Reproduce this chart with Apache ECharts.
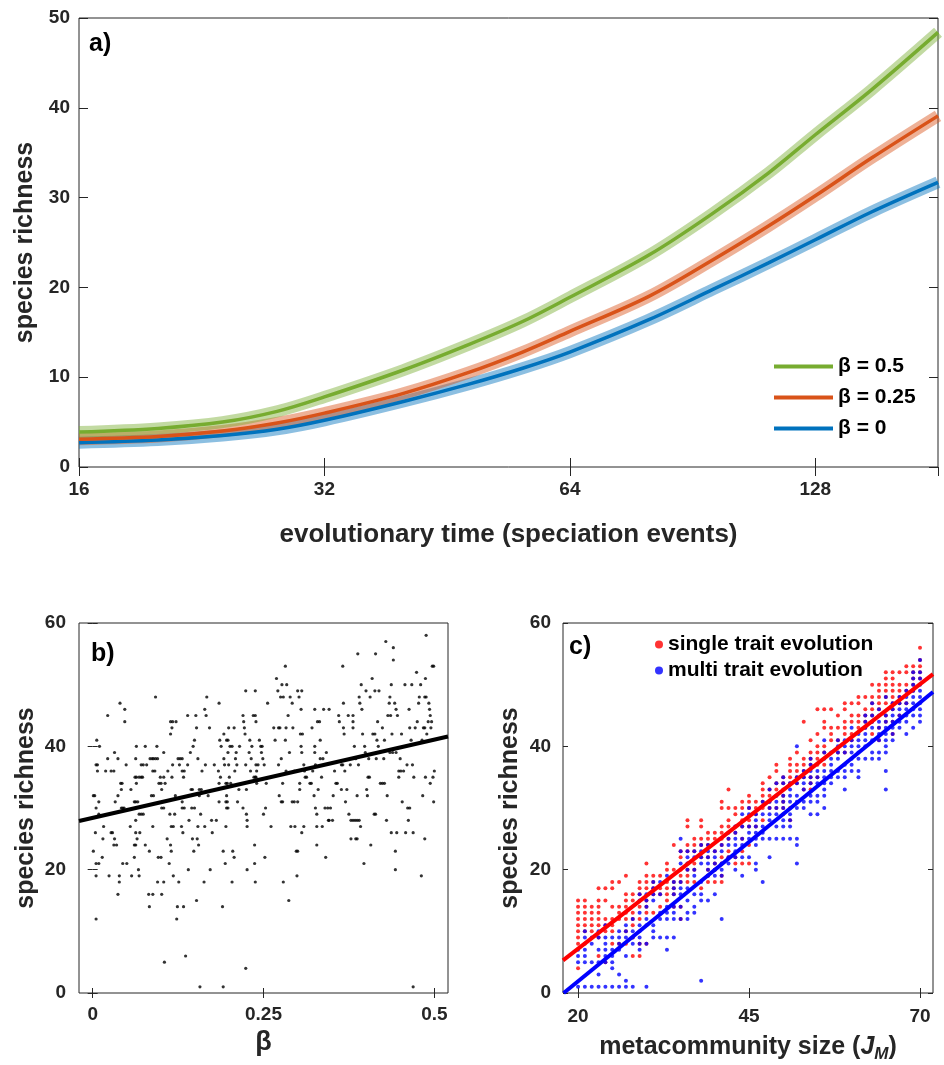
<!DOCTYPE html>
<html>
<head>
<meta charset="utf-8">
<script src="https://cdn.jsdelivr.net/npm/echarts@6/dist/echarts.min.js"></script>
<style>
  html, body { margin: 0; padding: 0; background: #fff; }
  #root { width: 944px; height: 1065px; }
</style>
</head>
<body>
<div id="root"></div>
<script>
// panel a: richness over evolutionary time
const timeSteps = [16, 20, 24, 28, 32, 40, 48, 56, 64, 80, 96, 112, 128, 150, 181];
const richBeta05 = [3.9, 4.3, 5.0, 6.2, 7.8, 10.8, 13.6, 16.2, 18.9, 23.6, 28.3, 32.7, 37.0, 42.0, 48.4];
const richBeta025 = [3.1, 3.4, 4.0, 4.9, 6.0, 8.2, 10.5, 12.8, 15.1, 19.0, 23.1, 26.8, 30.2, 34.4, 39.1];
const richBeta0 = [2.7, 3.0, 3.5, 4.2, 5.2, 7.3, 9.2, 11.0, 12.8, 16.4, 19.8, 22.7, 25.3, 28.4, 31.7];
const legendA = ['β = 0.5', 'β = 0.25', 'β = 0'];

// panel b: richness vs beta
const betaPoints = [
  [0.001,32],[0.003,32],[0.001,23],[0.005,12],[0.006,41],[0.010,40],[0.005,37],[0.007,37],[0.007,36],[0.004,26],
  [0.005,30],[0.005,19],[0.005,21],[0.009,21],[0.009,31],[0.009,29],[0.015,25],[0.016,27],[0.014,22],[0.019,36],
  [0.022,45],[0.022,38],[0.024,19],[0.027,36],[0.031,36],[0.027,26],[0.029,26],[0.032,39],[0.032,25],[0.031,24],
  [0.033,31],[0.037,38],[0.037,32],[0.035,24],[0.037,16],[0.039,19],[0.039,18],[0.040,47],[0.041,34],[0.043,34],
  [0.042,33],[0.042,30],[0.044,30],[0.046,30],[0.044,21],[0.047,46],[0.047,44],[0.049,37],[0.050,21],[0.055,27],
  [0.056,33],[0.057,19],[0.061,31],[0.063,31],[0.061,22],[0.061,24],[0.063,24],[0.062,35],[0.064,35],[0.063,38],
  [0.063,28],[0.064,40],[0.064,34],[0.063,26],[0.065,25],[0.066,31],[0.067,20],[0.068,19],[0.068,35],[0.071,35],
  [0.073,35],[0.068,29],[0.071,29],[0.074,29],[0.069,26],[0.071,37],[0.074,37],[0.077,40],[0.077,24],[0.079,37],
  [0.082,16],[0.088,16],[0.083,14],[0.083,23],[0.084,38],[0.087,38],[0.089,38],[0.092,38],[0.095,38],[0.086,32],
  [0.089,32],[0.088,27],[0.092,48],[0.088,36],[0.091,36],[0.094,40],[0.095,18],[0.104,18],[0.096,22],[0.100,22],
  [0.097,34],[0.100,34],[0.099,35],[0.104,35],[0.101,16],[0.101,30],[0.104,30],[0.101,33],[0.104,39],[0.106,34],
  [0.109,25],[0.110,36],[0.112,21],[0.113,29],[0.114,44],[0.117,44],[0.122,44],[0.114,42],[0.116,43],[0.114,24],
  [0.115,23],[0.115,27],[0.118,27],[0.116,35],[0.117,37],[0.118,19],[0.120,29],[0.121,32],[0.123,12],[0.124,14],
  [0.125,38],[0.128,38],[0.131,38],[0.126,18],[0.127,37],[0.130,27],[0.131,36],[0.134,36],[0.131,31],[0.131,30],
  [0.134,30],[0.132,26],[0.133,35],[0.133,14],[0.136,6],[0.105,5],[0.139,45],[0.139,37],[0.140,20],[0.141,28],
  [0.143,39],[0.147,40],[0.144,33],[0.146,33],[0.145,30],[0.149,30],[0.146,25],[0.148,23],[0.149,41],[0.151,45],
  [0.152,43],[0.152,15],[0.153,25],[0.154,38],[0.154,27],[0.155,24],[0.156,33],[0.159,33],[0.156,32],[0.157,1],
  [0.158,29],[0.160,36],[0.163,18],[0.164,46],[0.164,27],[0.165,37],[0.166,45],[0.167,48],[0.169,32],[0.171,43],
  [0.172,20],[0.174,28],[0.175,26],[0.178,37],[0.181,28],[0.184,36],[0.187,35],[0.185,47],[0.185,34],[0.185,31],
  [0.186,41],[0.188,40],[0.190,14],[0.191,23],[0.191,1],[0.192,42],[0.192,38],[0.193,37],[0.194,21],[0.195,34],
  [0.197,34],[0.195,31],[0.197,31],[0.195,27],[0.196,41],[0.198,41],[0.196,32],[0.196,30],[0.198,30],[0.198,39],
  [0.199,43],[0.199,37],[0.200,35],[0.201,40],[0.202,34],[0.204,40],[0.204,18],[0.205,23],[0.207,22],[0.207,43],
  [0.208,36],[0.209,38],[0.210,39],[0.211,37],[0.212,31],[0.214,33],[0.215,40],[0.220,30],[0.220,45],[0.221,44],
  [0.222,43],[0.223,42],[0.224,37],[0.224,49],[0.224,4],[0.225,33],[0.225,29],[0.226,28],[0.226,27],[0.226,20],
  [0.229,39],[0.230,41],[0.231,36],[0.232,38],[0.233,40],[0.235,45],[0.238,45],[0.236,35],[0.238,35],[0.239,35],
  [0.237,24],[0.237,21],[0.238,18],[0.238,49],[0.239,44],[0.239,37],[0.242,37],[0.240,36],[0.240,34],[0.244,41],
  [0.246,40],[0.248,40],[0.247,39],[0.249,38],[0.250,29],[0.251,37],[0.252,22],[0.253,30],[0.254,34],[0.256,47],
  [0.261,27],[0.265,43],[0.267,41],[0.269,51],[0.271,49],[0.272,43],[0.274,43],[0.272,37],[0.273,32],[0.276,31],
  [0.278,31],[0.275,48],[0.276,38],[0.277,50],[0.278,34],[0.279,18],[0.279,48],[0.282,53],[0.282,41],[0.283,36],
  [0.283,43],[0.284,50],[0.286,45],[0.287,15],[0.288,39],[0.289,48],[0.290,27],[0.292,47],[0.292,31],[0.295,31],
  [0.300,31],[0.293,43],[0.295,36],[0.298,36],[0.296,27],[0.298,23],[0.300,23],[0.299,19],[0.300,49],[0.302,48],
  [0.303,34],[0.303,33],[0.304,42],[0.305,46],[0.305,40],[0.306,39],[0.306,26],[0.306,49],[0.307,42],[0.309,27],
  [0.309,37],[0.310,36],[0.311,35],[0.313,35],[0.318,34],[0.320,34],[0.321,43],[0.322,36],[0.324,32],[0.325,46],
  [0.325,40],[0.325,39],[0.326,37],[0.326,30],[0.328,29],[0.328,24],[0.328,27],[0.329,44],[0.330,33],[0.332,44],
  [0.333,41],[0.333,38],[0.335,35],[0.336,27],[0.337,38],[0.338,46],[0.340,30],[0.341,22],[0.342,39],[0.344,30],
  [0.345,28],[0.346,28],[0.346,46],[0.348,30],[0.351,28],[0.352,32],[0.354,36],[0.356,34],[0.358,34],[0.360,45],
  [0.361,44],[0.364,37],[0.366,37],[0.364,33],[0.366,53],[0.367,47],[0.367,43],[0.368,42],[0.369,36],[0.370,31],
  [0.372,33],[0.374,45],[0.375,29],[0.378,28],[0.381,28],[0.384,28],[0.387,28],[0.390,28],[0.377,37],[0.378,25],
  [0.385,25],[0.387,25],[0.381,45],[0.381,44],[0.381,43],[0.383,40],[0.385,38],[0.387,32],[0.388,55],[0.389,37],
  [0.390,48],[0.391,47],[0.393,50],[0.392,27],[0.394,46],[0.395,42],[0.397,21],[0.398,40],[0.399,39],[0.400,49],
  [0.401,33],[0.402,32],[0.403,35],[0.404,38],[0.405,35],[0.406,48],[0.407,24],[0.409,51],[0.410,42],[0.413,42],
  [0.412,29],[0.414,29],[0.413,49],[0.414,55],[0.415,38],[0.416,41],[0.417,44],[0.418,40],[0.419,49],[0.421,34],
  [0.424,34],[0.427,34],[0.424,43],[0.426,38],[0.427,41],[0.429,57],[0.430,28],[0.431,32],[0.432,45],[0.434,47],
  [0.435,48],[0.435,39],[0.436,45],[0.437,50],[0.437,26],[0.438,42],[0.439,39],[0.440,56],[0.440,54],[0.442,47],
  [0.443,23],[0.443,20],[0.444,39],[0.444,46],[0.445,26],[0.446,45],[0.448,36],[0.451,36],[0.448,35],[0.450,38],
  [0.452,42],[0.453,31],[0.455,36],[0.457,50],[0.458,26],[0.460,37],[0.461,30],[0.462,28],[0.463,46],[0.464,43],
  [0.464,30],[0.466,41],[0.467,50],[0.468,37],[0.469,1],[0.469,26],[0.470,35],[0.472,43],[0.474,52],[0.475,44],
  [0.477,47],[0.478,48],[0.480,50],[0.481,19],[0.482,41],[0.483,32],[0.484,43],[0.486,43],[0.486,48],[0.488,48],
  [0.486,25],[0.487,51],[0.487,35],[0.488,58],[0.489,42],[0.491,44],[0.492,47],[0.493,46],[0.494,45],[0.494,34],
  [0.495,43],[0.496,44],[0.497,53],[0.499,53],[0.498,35],[0.499,31],[0.500,36]
];
const betaFit = [[-0.02, 27.9], [0.52, 41.6]];

// panel c: richness vs metacommunity size, one list of richness values per J_M column
const jmSizes = [20,21,22,23,24,25,26,27,28,29,30,31,32,33,34,35,36,37,38,39,40,41,42,43,44,45,
  46,47,48,49,50,51,52,53,54,55,56,57,58,59,60,61,62,63,64,65,66,67,68,69,70];
const singleTrait = [
  [15,14,13,12,11,10,9,8,4],[15,14,13,12,11,10,8],[14,13,12,11,10],[17,15,14,13,12,11,9,6],[17,15,12,11,10,5],
  [18,17,14,12,11,10,8],[18,14,13,12,8],[19,16,15,14,13,12,10,8],[16,15,13,12,11,9,6],[18,17,16,14,12,8,6],
  [21,19,18,17,15,14,13,8],[19,18,17,16,13],[19,17,16,14],[21,20,18,17,16,15],[24,20,18,17,16,14],
  [23,22,20,19,18,14,12],[28,27,24,23,21,20,19,18],[25,24,23,21,20,18],[28,27,25,24,22,17],[26,25,24,22,20,19,18],
  [26,25,23,21,20,18],[31,30,27,26,25,24,22,21,19,18],[33,30,28,27,25,23,22],[30,29,27,26,22,21],[31,30,28,27,25,23,21],
  [32,31,30,28,27,24,21],[31,30,29,27],[34,33,32,31,30,28],[35,33,32,31,30],[37,36,34,33,32,30],
  [35,34,33,32,31,30,29],[38,37,36,35,34,30,28],[39,37,36,35,34],[44,38,37,36,35,33],[41,39,38,37,35,34,33],
  [46,42,40,39,38,37,35],[46,44,43,40,39,37],[46,43,42,41],[45,43,41,39],[47,46,44,43,42,39],
  [47,45,44,42,41],[48,47,45,44,43],[48,46,45,44,43],[50,48,47,46,45,44,42],[50,49,48,47,46,43,41],
  [52,51,50,49,48,47,45,44],[52,51,50,49,48,47,46,44,42],[52,50,49,48,47,45],[53,52,50,49,47],[53,52,51,50,49],
  [56,54,53,52,51]
];
const multiTrait = [
  [7,6,5,1],[10,9,7,6,5,1],[9,8,5,1],[10,9,7,5,3,1],[11,9,8,7,6,5,1],
  [9,7,6,5,4,1],[10,9,8,7,3,1],[11,10,9,6,2,1],[12,10,9,8,1],[16,15,13,11,10,9,8,7],
  [16,15,14,12,11,8,1],[18,17,16,15,11,10,9],[18,16,13,12,9],[19,14,13,12,9,7],[18,17,16,14,13,12,9],
  [25,23,21,18,17,16,14,12],[23,22,21,20,17,15,13,12],[23,22,20,19,16,14,13],[24,23,22,21,18,16,15,2],[24,23,22,21,20,19,15],
  [23,22,21,20,19,16],[24,23,21,20,19,12],[26,25,24,22,21],[27,26,25,24,23,22,20],[29,27,25,24,22,19],
  [30,29,27,26,25,22],[29,28,27,26,25,24,21,20],[31,29,27,26,25,18],[33,31,30,29,28,25,22],[34,32,31,30,29,27,25],
  [35,34,32,31,30,28,27,25],[34,33,32,31,29,28,27,25],[40,35,34,32,31,30,25,24,21],[36,35,34,33,31,30],[38,37,36,35,34,32,31,29],
  [36,35,34,32,31,29],[41,39,38,36,35,34,33,32,30],[39,38,37,36,35,34],[41,40,39,38,36,35],[41,40,39,37,36,35,33],
  [43,41,40,39,38,37,36],[42,41,40,39,38,36,35],[45,44,43,42,41,40,38],[47,45,44,43,41,39,38],[46,45,44,43,42,41,39,38],
  [48,45,44,43,42,41,40,39,36,33],[47,46,45,44,43,42,41],[48,47,46,45,44,43],[49,48,47,46,45,44,42],[52,51,50,49,48,47,46,45,43],
  [54,52,51,50,49,48,47,46,45,44]
];
const singleFit = [[17.8, 5.3], [71.9, 51.7]];
const multiFit = [[17.9, 0], [71.9, 48.8]];

const FONT = 'Liberation Sans';
const INK = '#262626';

function toPairs(xs, ys) {
  return xs.map((x, i) => [x, ys[i]]);
}
function columnsToPoints(cols, lists) {
  const pts = [];
  cols.forEach((x, i) => lists[i].forEach(y => pts.push([x, y])));
  return pts;
}

function tickLabel(margin) {
  return { fontFamily: FONT, fontWeight: 'bold', fontSize: 19, color: INK, margin: margin };
}
function nameStyle() {
  return { fontFamily: FONT, fontWeight: 'bold', fontSize: 25, color: INK };
}
function mirrorAxis(base, pos) {
  // same scale as base, just inside ticks on the opposite side
  const ax = Object.assign({}, base, { position: pos, name: '' });
  ax.axisLabel = Object.assign({}, base.axisLabel, { show: false });
  return ax;
}

const xA = {
  gridIndex: 0, type: 'log', logBase: 2, min: 16, max: 181,
  axisLine: { show: false }, splitLine: { show: false },
  axisTick: { inside: true, length: 9, lineStyle: { color: INK } },
  axisLabel: Object.assign(tickLabel(13), { showMaxLabel: false }),
  name: 'evolutionary time (speciation events)', nameLocation: 'middle', nameGap: 55,
  nameTextStyle: Object.assign(nameStyle(), { fontSize: 26 })
};
const yA = {
  gridIndex: 0, type: 'value', min: 0, max: 50, interval: 10,
  axisLine: { show: false }, splitLine: { show: false },
  axisTick: { inside: true, length: 9, lineStyle: { color: INK } },
  axisLabel: tickLabel(9),
  name: 'species richness', nameLocation: 'middle', nameGap: 41,
  nameTextStyle: nameStyle()
};
const xB = {
  gridIndex: 1, type: 'value', min: -0.02, max: 0.52,
  axisLine: { show: false }, splitLine: { show: false },
  axisTick: { inside: true, length: 5, customValues: [0, 0.25, 0.5], lineStyle: { color: INK } },
  axisLabel: Object.assign(tickLabel(12), { customValues: [0, 0.25, 0.5] }),
  name: 'β', nameLocation: 'middle', nameGap: 36,
  nameTextStyle: Object.assign(nameStyle(), { fontSize: 27 })
};
const yB = {
  gridIndex: 1, type: 'value', min: 0, max: 60, interval: 20,
  axisLine: { show: false }, splitLine: { show: false },
  axisTick: { inside: true, length: 5, lineStyle: { color: INK } },
  axisLabel: tickLabel(13),
  name: 'species richness', nameLocation: 'middle', nameGap: 40,
  nameTextStyle: nameStyle()
};
const xC = {
  gridIndex: 2, type: 'value', min: 17.8, max: 71.9,
  axisLine: { show: false }, splitLine: { show: false },
  axisTick: { inside: true, length: 5, customValues: [20, 45, 70], lineStyle: { color: INK } },
  axisLabel: Object.assign(tickLabel(14), { customValues: [20, 45, 70] }),
  name: 'metacommunity size ({i|J}{sub|M})', nameLocation: 'middle', nameGap: 38,
  nameTextStyle: Object.assign(nameStyle(), {
    rich: {
      i: { fontFamily: FONT, fontWeight: 'bold', fontStyle: 'italic', fontSize: 25, color: INK },
      sub: { fontFamily: FONT, fontWeight: 'bold', fontStyle: 'italic', fontSize: 17, color: INK, padding: [15, 0, 0, 0] }
    }
  })
};
const yC = {
  gridIndex: 2, type: 'value', min: 0, max: 60, interval: 20,
  axisLine: { show: false }, splitLine: { show: false },
  axisTick: { inside: true, length: 5, lineStyle: { color: INK } },
  axisLabel: tickLabel(12),
  name: 'species richness', nameLocation: 'middle', nameGap: 40,
  nameTextStyle: nameStyle()
};

const green = '#77AC30', orange = '#D95319', blue = '#0072BD';

function curve(name, ys, color, width, z) {
  return {
    type: 'line', name: name, xAxisIndex: 0, yAxisIndex: 0,
    data: toPairs(timeSteps, ys), smooth: 0.35, showSymbol: false, silent: true, z: z,
    itemStyle: { color: color }, lineStyle: { color: color, width: width, cap: 'butt' }
  };
}

const gridBox = { show: true, borderColor: INK, borderWidth: 1, backgroundColor: 'transparent' };

const option = {
  animation: false,
  textStyle: { fontFamily: FONT },
  grid: [
    Object.assign({ left: 79, top: 18, width: 859, height: 449 }, gridBox),
    Object.assign({ left: 79, top: 623, width: 369, height: 370 }, gridBox),
    Object.assign({ left: 563, top: 623, width: 370, height: 370 }, gridBox)
  ],
  xAxis: [xA, xB, xC, mirrorAxis(xA, 'top'), mirrorAxis(xB, 'top'), mirrorAxis(xC, 'top')],
  yAxis: [yA, yB, yC, mirrorAxis(yA, 'right'), mirrorAxis(yB, 'right'), mirrorAxis(yC, 'right')],
  legend: [
    {
      data: legendA, orient: 'vertical', left: 774, top: 356, padding: 0,
      icon: 'rect', itemWidth: 59, itemHeight: 4, itemGap: 10, selectedMode: false,
      textStyle: { fontFamily: FONT, fontWeight: 'bold', fontSize: 21, color: '#000' }
    },
    {
      data: ['single trait evolution', 'multi trait evolution'], orient: 'vertical', left: 655, top: 634, padding: 0,
      icon: 'circle', itemWidth: 8, itemHeight: 8, itemGap: 5, selectedMode: false,
      textStyle: { fontFamily: FONT, fontWeight: 'bold', fontSize: 21, color: '#000' }
    }
  ],
  graphic: [
    { type: 'text', left: 89, top: 32, style: { text: 'a)', font: 'bold 25px "Liberation Sans"', fill: '#000' } },
    { type: 'text', left: 91, top: 642, style: { text: 'b)', font: 'bold 25px "Liberation Sans"', fill: '#000' } },
    { type: 'text', left: 569, top: 635, style: { text: 'c)', font: 'bold 25px "Liberation Sans"', fill: '#000' } }
  ],
  series: [
    curve('band 0', richBeta0, 'rgba(0,114,189,0.45)', 12, 1),
    curve('band 0.25', richBeta025, 'rgba(217,83,25,0.45)', 12, 1),
    curve('band 0.5', richBeta05, 'rgba(119,172,48,0.45)', 12, 1),
    curve(legendA[2], richBeta0, blue, 3.5, 2),
    curve(legendA[1], richBeta025, orange, 3.5, 2),
    curve(legendA[0], richBeta05, green, 3.5, 2),
    {
      type: 'scatter', name: 'beta runs', xAxisIndex: 1, yAxisIndex: 1,
      data: betaPoints, symbolSize: 3.2, itemStyle: { color: '#000' }, silent: true
    },
    {
      type: 'line', name: 'beta fit', xAxisIndex: 1, yAxisIndex: 1, data: betaFit,
      showSymbol: false, silent: true, lineStyle: { color: '#000', width: 4 }, z: 3
    },
    {
      type: 'scatter', name: 'single trait evolution', xAxisIndex: 2, yAxisIndex: 2,
      data: columnsToPoints(jmSizes, singleTrait), symbolSize: 4, itemStyle: { color: '#FF0000' }, silent: true
    },
    {
      type: 'scatter', name: 'multi trait evolution', xAxisIndex: 2, yAxisIndex: 2,
      data: columnsToPoints(jmSizes, multiTrait), symbolSize: 4, itemStyle: { color: '#0000FF' }, silent: true
    },
    {
      type: 'line', name: 'single fit', xAxisIndex: 2, yAxisIndex: 2, data: singleFit,
      showSymbol: false, silent: true, lineStyle: { color: '#FF0000', width: 4 }, z: 3
    },
    {
      type: 'line', name: 'multi fit', xAxisIndex: 2, yAxisIndex: 2, data: multiFit,
      showSymbol: false, silent: true, lineStyle: { color: '#0000FF', width: 4 }, z: 3
    }
  ]
};

const chart = echarts.init(document.getElementById('root'), null, { renderer: 'canvas' });
chart.setOption(option);
</script>
</body>
</html>
